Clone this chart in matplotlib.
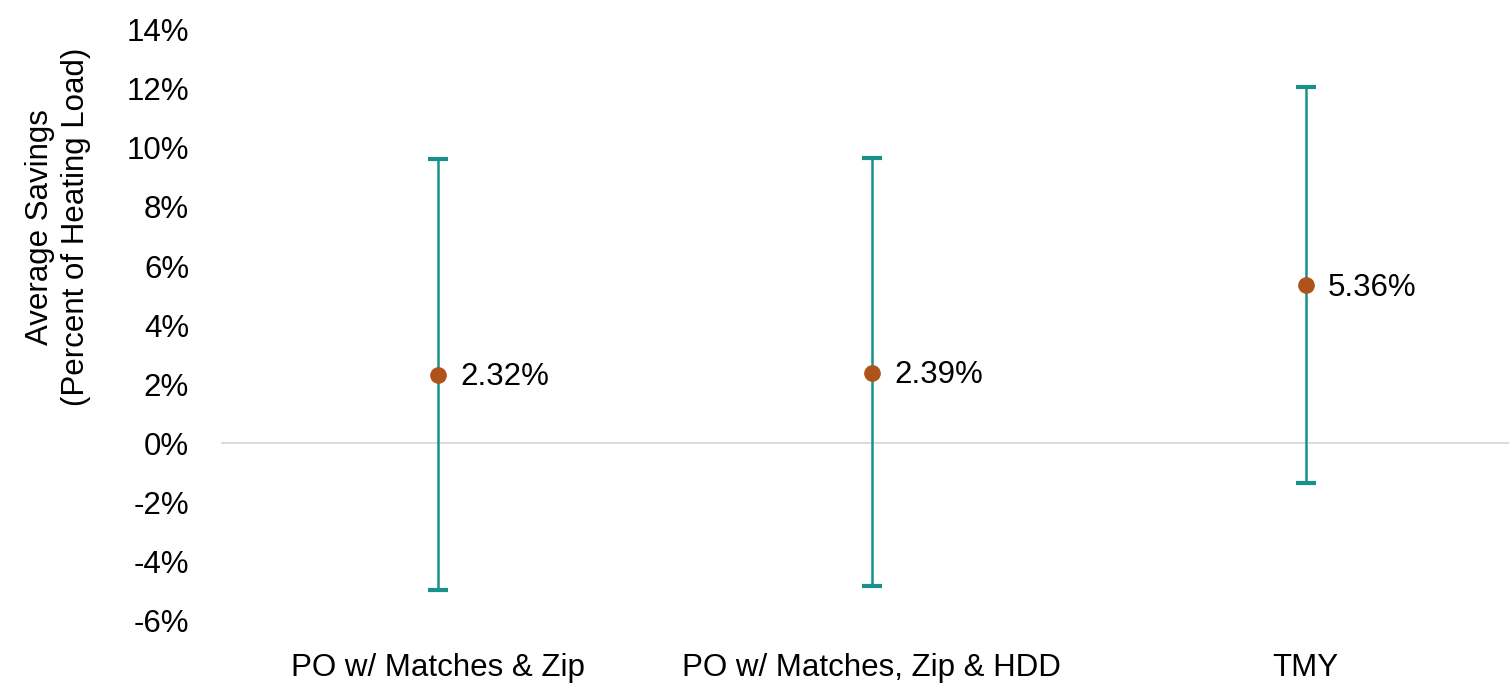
import matplotlib.pyplot as plt
from matplotlib.ticker import FuncFormatter, MultipleLocator

plt.rcParams['font.family'] = ['Liberation Sans Narrow', 'Liberation Sans', 'DejaVu Sans']

categories = ['PO w/ Matches & Zip', 'PO w/ Matches, Zip & HDD', 'TMY']
savings = [2.32, 2.39, 5.36]
lower = [-4.98, -4.86, -1.34]
upper = [9.64, 9.66, 12.08]

TEAL = '#17918a'
RUST = '#b0531a'

fig = plt.figure(figsize=(15.09, 6.83), dpi=100)
ax = fig.add_axes([0.1465, 0.0922, 0.8625, 0.8639])

x = [i + 0.5 for i in range(len(categories))]
err_lo = [s - l for s, l in zip(savings, lower)]
err_hi = [u - s for s, u in zip(savings, upper)]

ax.axhline(0, color='#d9d9d9', lw=1.3, zorder=1)
ax.errorbar(x, savings, yerr=[err_lo, err_hi], fmt='none', ecolor=TEAL,
            elinewidth=1.8, capsize=7, capthick=3, zorder=2)
ax.plot(x, savings, 'o', color=RUST, ms=11, zorder=3)

for xi, s in zip(x, savings):
    ax.annotate(f'{s:.2f}%', (xi, s), xytext=(16, -2), textcoords='offset points',
                ha='left', va='center', fontsize=22.5)

ax.set_xlim(0, 3)
ax.set_ylim(-6, 14)
ax.yaxis.set_major_locator(MultipleLocator(2))
ax.yaxis.set_major_formatter(FuncFormatter(lambda v, p: f'{v:.0f}%'))
ax.set_xticks(x)
ax.set_xticklabels(categories)
ax.tick_params(axis='both', length=0, labelsize=22.5)
ax.tick_params(axis='y', pad=23)
ax.tick_params(axis='x', pad=24)
for sp in ax.spines.values():
    sp.set_visible(False)

ax.set_ylabel('Average Savings\n(Percent of Heating Load)', fontsize=22.5,
              linespacing=1.25)
ax.yaxis.set_label_coords(-0.1, 0.666)

fig.savefig('out.png', dpi=100)
